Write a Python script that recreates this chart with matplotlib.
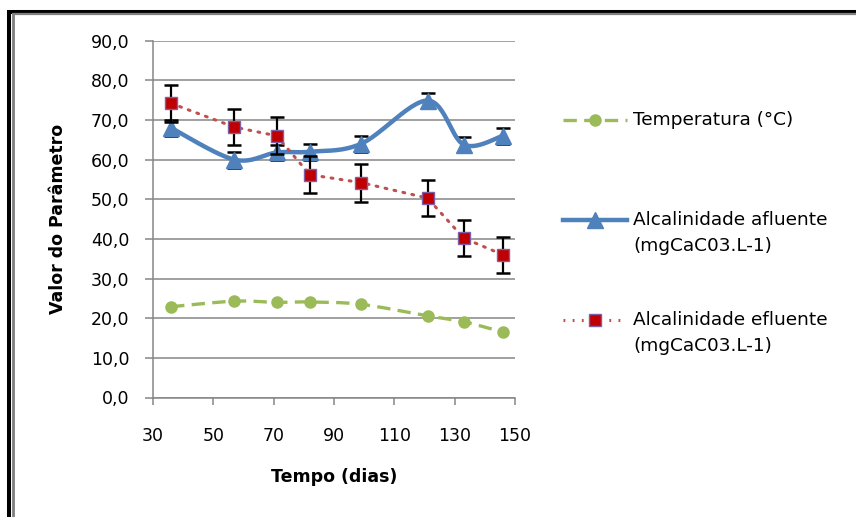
import numpy as np
import matplotlib
matplotlib.use("Agg")
from matplotlib import pyplot as plt
from matplotlib.lines import Line2D
from matplotlib.ticker import FuncFormatter

dias = [36, 57, 71, 82, 99, 121, 133, 146]
temperatura = [22.9, 24.3, 24.0, 24.1, 23.5, 20.6, 19.1, 16.5]
alc_afluente = [68.0, 60.0, 61.8, 62.0, 64.0, 74.9, 63.8, 66.0]
alc_afluente_err = [2.0, 2.0, 2.0, 2.0, 2.0, 1.8, 2.0, 2.0]
alc_efluente = [74.2, 68.2, 66.0, 56.2, 54.2, 50.3, 40.2, 36.0]
alc_efluente_err = [4.7, 4.6, 4.7, 4.7, 4.8, 4.6, 4.6, 4.6]

labels = ['Temperatura (°C)',
          'Alcalinidade afluente\n(mgCaC03.L-1)',
          'Alcalinidade efluente\n(mgCaC03.L-1)']

verde = '#9BBB59'
azul = '#4F81BD'
vermelho = '#C00000'
grade = '#868686'


def suaviza(x, y, n=30):
    # curva tipo "linha suavizada" do Excel (Bezier com pontos de Catmull-Rom)
    x = np.asarray(x, float)
    y = np.asarray(y, float)
    px = np.concatenate([[x[0]], x, [x[-1]]])
    py = np.concatenate([[y[0]], y, [y[-1]]])
    xs, ys = [], []
    t = np.linspace(0, 1, n)
    for i in range(1, len(px) - 2):
        p0 = np.array([px[i], py[i]])
        p3 = np.array([px[i + 1], py[i + 1]])
        p1 = p0 + (np.array([px[i + 1], py[i + 1]]) - np.array([px[i - 1], py[i - 1]])) / 6
        p2 = p3 - (np.array([px[i + 2], py[i + 2]]) - np.array([px[i], py[i]])) / 6
        b = ((1 - t) ** 3)[:, None] * p0 + (3 * (1 - t) ** 2 * t)[:, None] * p1 \
            + (3 * (1 - t) * t ** 2)[:, None] * p2 + (t ** 3)[:, None] * p3
        xs.extend(b[:, 0])
        ys.extend(b[:, 1])
    return xs, ys


plt.rcParams['font.family'] = ['DejaVu Sans']
fig = plt.figure(figsize=(8.56, 5.17), dpi=100)
ax = fig.add_axes([153 / 856, 1 - 397.5 / 517, 362 / 856, 356.8 / 517])

# temperatura
sx, sy = suaviza(dias, temperatura)
ax.plot(sx, sy, color=verde, lw=2.4, ls=(0, (4, 2.2)), zorder=3)
ax.plot(dias, temperatura, 'o', color=verde, ms=8, zorder=4)

# alcalinidade afluente
ax.errorbar(dias, alc_afluente, yerr=alc_afluente_err, fmt='none', ecolor='black',
            elinewidth=1.6, capsize=5, capthick=1.8, zorder=3)
sx, sy = suaviza(dias, alc_afluente)
ax.plot(sx, sy, color=azul, lw=3.2, solid_capstyle='round', zorder=4)
ax.plot(dias, alc_afluente, '^', color=azul, ms=11, zorder=5)

# alcalinidade efluente
ax.errorbar(dias, alc_efluente, yerr=alc_efluente_err, fmt='none', ecolor='black',
            elinewidth=1.6, capsize=5, capthick=1.8, zorder=6)
ax.plot(dias, alc_efluente, color='#C0504D', lw=2.2, ls=(0, (0.6, 2.4)),
        dash_capstyle='round', zorder=6)
ax.plot(dias, alc_efluente, 's', color=vermelho, mec='#7F5FA6', mew=1.0, ms=9, zorder=7)

ax.set_xlim(30, 150)
ax.set_ylim(0, 90)
ax.set_xticks(range(30, 151, 20))
ax.set_yticks(range(0, 91, 10))
ax.yaxis.set_major_formatter(FuncFormatter(lambda v, p: f'{v:.1f}'.replace('.', ',')))
ax.grid(axis='y', color=grade, lw=1.1)
ax.set_axisbelow(True)
for s in ['top', 'right']:
    ax.spines[s].set_visible(False)
for s in ['left', 'bottom']:
    ax.spines[s].set_color(grade)
    ax.spines[s].set_linewidth(1.1)
ax.tick_params(axis='y', direction='out', length=6, width=1.1, color=grade,
               labelsize=12.5, pad=11)
ax.tick_params(axis='x', direction='out', length=5, width=1.1, color=grade,
               labelsize=12.5, pad=16)
ax.set_xlabel('Tempo (dias)', fontsize=12.5, fontweight='bold', labelpad=17)
ax.set_ylabel('Valor do Parâmetro', fontsize=12.5, fontweight='bold', labelpad=17)

# legenda à direita
W, H = 856, 517
estilos = [
    dict(color=verde, lw=2.4, ls=(0, (4, 2.2)), marker='o', ms=8),
    dict(color=azul, lw=3.2, marker='^', ms=11),
    dict(color='#C0504D', lw=2.2, ls=(0, (0.6, 2.4)), marker='s', ms=9,
         mfc=vermelho, mec='#7F5FA6', mew=1.0),
]
ys_leg = [120, 220, 320]
for est, lab, yl in zip(estilos, labels, ys_leg):
    linha = Line2D([563 / W, 627 / W], [1 - yl / H, 1 - yl / H], markevery=[], **est)
    fig.add_artist(linha)
    est_m = {k: v for k, v in est.items() if k not in ('ls', 'lw')}
    fig.add_artist(Line2D([595 / W], [1 - yl / H], ls='none', **est_m))
    fig.text(633 / W, 1 - (yl - 9) / H, lab, fontsize=13.3, va='top', ha='left',
             linespacing=1.55)

# moldura do gráfico
fig.add_artist(Line2D([7 / W, 1], [1 - 12 / H, 1 - 12 / H], color='black', lw=2.9,
                      solid_capstyle='butt'))
fig.add_artist(Line2D([9 / W, 9 / W], [0, 1 - 10 / H], color='black', lw=2.9,
                      solid_capstyle='butt'))
fig.add_artist(Line2D([12 / W, 1], [1 - 14.3 / H, 1 - 14.3 / H], color='#808080', lw=1.6,
                      solid_capstyle='butt'))
fig.add_artist(Line2D([13.5 / W, 13.5 / W], [0, 1 - 13.5 / H], color='#808080', lw=2.0,
                      solid_capstyle='butt'))

fig.savefig('out.png', dpi=100)
